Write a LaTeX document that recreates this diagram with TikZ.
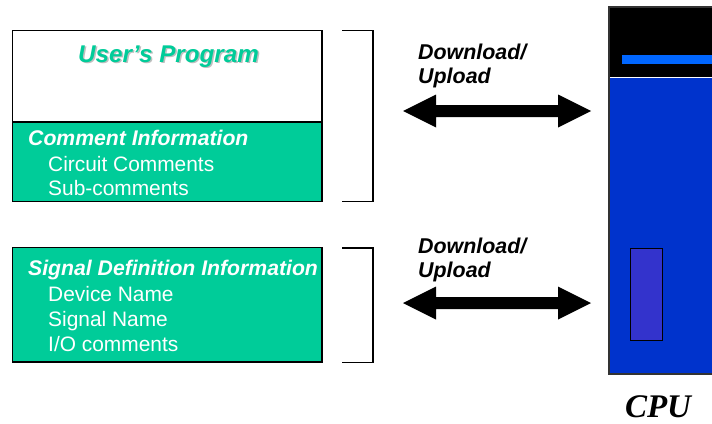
\documentclass[tikz,border=0pt]{standalone}
\usepackage{fontspec}
\setmainfont{Liberation Sans}
\newfontfamily\timesfont{Liberation Serif}
\definecolor{mygreen}{HTML}{00CC99}
\definecolor{cpublue}{HTML}{0033CC}
\definecolor{slotblue}{HTML}{3333CC}
\definecolor{stripeblue}{HTML}{0066FF}
\begin{document}
\begin{tikzpicture}[x=1pt,y=-1pt,
  boxline/.style={draw=black,line width=1.5pt},
  headtxt/.style={anchor=base west,inner sep=0pt,text=white,font=\fontsize{21.2}{24}\selectfont\bfseries\itshape},
  itemtxt/.style={anchor=base west,inner sep=0pt,text=white,font=\fontsize{20.9}{24}\selectfont},
  dltxt/.style={anchor=base west,inner sep=0pt,text=black,font=\fontsize{21.4}{24}\selectfont\bfseries\itshape},
  bigarrow/.style={fill=black}]
\useasboundingbox (0,0) rectangle (712,423);
\clip (0,0) rectangle (712,423);
% top box
\fill[white] (12.5,30.5) rectangle (322,122);
\fill[mygreen] (12.5,122) rectangle (322,201.5);
\draw[boxline] (12.5,30.5) rectangle (322,201.5);
\draw[boxline] (12.5,122) -- (322,122);
\node[anchor=base,inner sep=0pt,text=black!25,font=\fontsize{24.2}{30}\selectfont\bfseries\itshape] at (170,63.5) {User’s Program};
\node (title) [anchor=base,inner sep=0pt,text=mygreen,font=\fontsize{24.2}{30}\selectfont\bfseries\itshape] at (168.5,62) {User’s Program};
\node (ci) [headtxt] at (28,145) {Comment Information};
\node (cc) [itemtxt] at (48,171.5) {Circuit Comments};
\node (sc) [itemtxt] at (48,195) {Sub-comments};
% top bracket
\draw[boxline] (342,30.5) -- (373,30.5) -- (373,201.5) -- (342,201.5);
% bottom box
\fill[mygreen] (12.5,247.5) rectangle (322,362);
\draw[boxline] (12.5,247.5) rectangle (322,362);
\node (sd) [headtxt] at (28,275) {Signal Definition Information};
\node (dn) [itemtxt] at (48,301.5) {Device Name};
\node (sn) [itemtxt] at (48,326.5) {Signal Name};
\node (io) [itemtxt] at (48,351.5) {I/O comments};
% bottom bracket
\draw[boxline] (342,248) -- (373,248) -- (373,362.5) -- (342,362.5);
% labels
\node (dl1) [dltxt] at (418,59) {Download/};
\node (ul1) [dltxt] at (418,83.5) {Upload};
\node (dl2) [dltxt] at (418,253) {Download/};
\node (ul2) [dltxt] at (418,277.5) {Upload};
% arrows
\coordinate (a1l) at (403,111);
\coordinate (a1r) at (591,111);
\coordinate (a2l) at (403,303);
\coordinate (a2r) at (591,303);
\foreach \a/\b in {a1l/a1r,a2l/a2r}{
  \fill[bigarrow] (\a) -- ([shift={(33,-16.5)}]\a) -- ([shift={(33,-6)}]\a) -- ([shift={(-33,-6)}]\b)
    -- ([shift={(-33,-16.5)}]\b) -- (\b) -- ([shift={(-33,16.5)}]\b) -- ([shift={(-33,6)}]\b)
    -- ([shift={(33,6)}]\a) -- ([shift={(33,16.5)}]\a) -- cycle;
}
% CPU
\fill[black] (609,7) rectangle (715,77);
\fill[stripeblue] (621.5,55) rectangle (715,64);
\fill[cpublue] (609.5,77.5) rectangle (715,374);
\draw[line width=1.2pt,black!80] (715,7) -- (609,7) -- (609,374) -- (715,374);
\draw[line width=1pt,black,fill=slotblue] (630.5,248) rectangle (662,340);
\node (cpu) [anchor=base,inner sep=0pt,font=\fontsize{33}{38}\selectfont\timesfont\bfseries\itshape] at (658,417) {CPU};
\end{tikzpicture}
\end{document}
